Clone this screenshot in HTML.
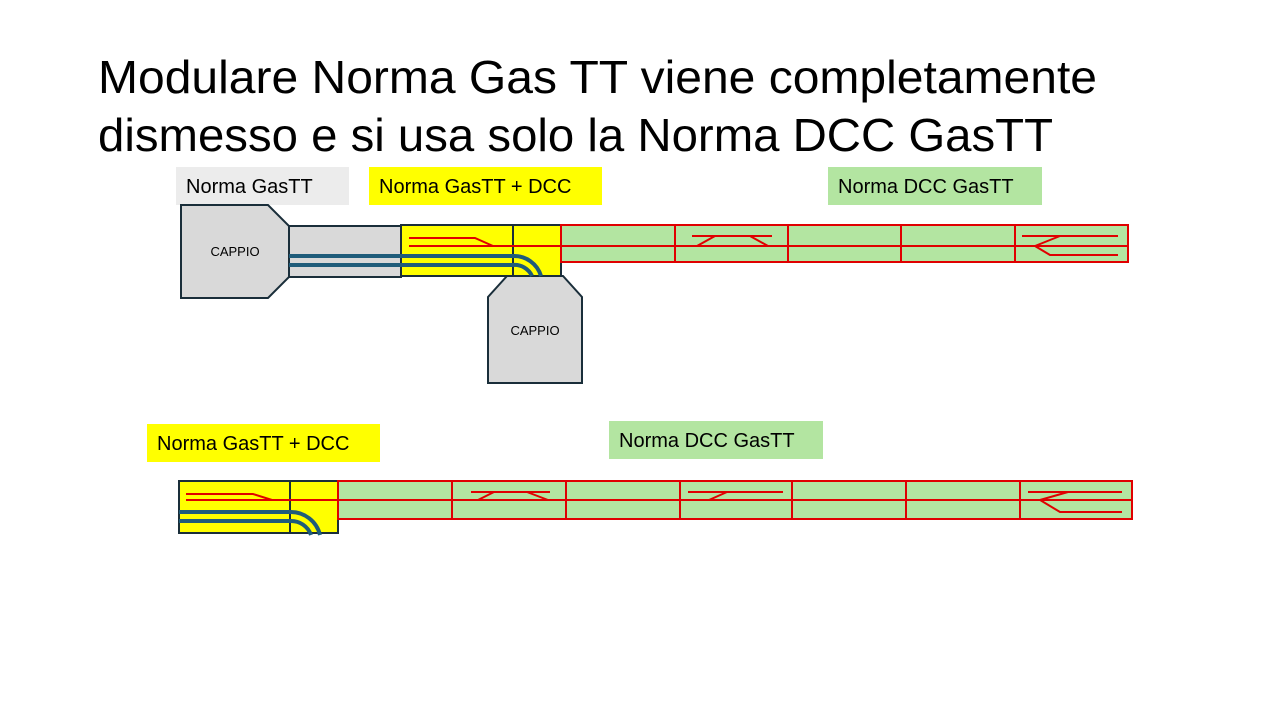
<!DOCTYPE html>
<html><head><meta charset="utf-8"><style>html,body{margin:0;padding:0;background:#fff;width:1280px;height:720px;overflow:hidden}</style></head>
<body>
<svg width="1280" height="720" xmlns="http://www.w3.org/2000/svg" font-family="Liberation Sans, sans-serif">
<text x="98" y="93" font-size="46" fill="#000" textLength="999" lengthAdjust="spacingAndGlyphs">Modulare Norma Gas TT viene completamente</text>
<text x="98" y="151" font-size="46" fill="#000" textLength="955" lengthAdjust="spacingAndGlyphs">dismesso e si usa solo la Norma DCC GasTT</text>

<!-- labels -->
<rect x="176" y="167" width="173" height="38" fill="#ececec"/>
<text x="186" y="193" font-size="20">Norma GasTT</text>
<rect x="369" y="167" width="233" height="38" fill="#ffff00"/>
<text x="379" y="193" font-size="20">Norma GasTT + DCC</text>
<rect x="828" y="167" width="214" height="38" fill="#b3e5a1"/>
<text x="838" y="193" font-size="20">Norma DCC GasTT</text>
<rect x="147" y="424" width="233" height="38" fill="#ffff00"/>
<text x="157" y="450" font-size="20">Norma GasTT + DCC</text>
<rect x="609" y="421" width="214" height="38" fill="#b3e5a1"/>
<text x="619" y="447" font-size="20">Norma DCC GasTT</text>

<!-- top row -->
<polygon points="181,205 268,205 289,226 289,277 268,298 181,298" fill="#d9d9d9" stroke="#1a2e3a" stroke-width="2"/>
<text x="235" y="256" font-size="13" text-anchor="middle">CAPPIO</text>
<rect x="289" y="226" width="112" height="51" fill="#d9d9d9" stroke="#1a2e3a" stroke-width="2"/>
<rect x="401" y="225" width="160" height="51" fill="#ffff00" stroke="#1a2e3a" stroke-width="2"/>
<line x1="513" y1="225" x2="513" y2="276" stroke="#1a2e3a" stroke-width="2"/>
<polygon points="507,276 563,276 582,297 582,383 488,383 488,297" fill="#d9d9d9" stroke="#1a2e3a" stroke-width="2"/>
<text x="535" y="335" font-size="13" text-anchor="middle">CAPPIO</text>
<rect x="561" y="225" width="567" height="37" fill="#b3e5a1" stroke="#e00000" stroke-width="2"/>
<g stroke="#e00000" stroke-width="2" fill="none">
<line x1="675" y1="225" x2="675" y2="262"/><line x1="788" y1="225" x2="788" y2="262"/><line x1="901" y1="225" x2="901" y2="262"/><line x1="1015" y1="225" x2="1015" y2="262"/>
<line x1="510" y1="246" x2="1128" y2="246"/>
<polyline points="409,238 475,238 493,246"/><line x1="409" y1="246" x2="510" y2="246"/>
<line x1="692" y1="236" x2="772" y2="236"/><line x1="715" y1="236" x2="697" y2="246"/><line x1="750" y1="236" x2="768" y2="246"/>
<line x1="1022" y1="236" x2="1118" y2="236"/><polyline points="1060,236 1035,246 1050,255 1118,255"/>
</g>
<g stroke="#1f5c7a" stroke-width="4" fill="none">
<path d="M289,256 L513,256 A28,28 0 0 1 541,276"/>
<path d="M289,265 L513,265 A19,19 0 0 1 532,276"/>
</g>

<!-- bottom row -->
<rect x="179" y="481" width="159" height="52" fill="#ffff00" stroke="#1a2e3a" stroke-width="2"/>
<line x1="290" y1="481" x2="290" y2="533" stroke="#1a2e3a" stroke-width="2"/>
<rect x="338" y="481" width="794" height="38" fill="#b3e5a1" stroke="#e00000" stroke-width="2"/>
<g stroke="#e00000" stroke-width="2" fill="none">
<line x1="452" y1="481" x2="452" y2="519"/><line x1="566" y1="481" x2="566" y2="519"/><line x1="680" y1="481" x2="680" y2="519"/><line x1="792" y1="481" x2="792" y2="519"/><line x1="906" y1="481" x2="906" y2="519"/><line x1="1020" y1="481" x2="1020" y2="519"/>
<line x1="186" y1="500" x2="1132" y2="500"/>
<polyline points="186,494 253,494 272,500"/>
<line x1="471" y1="492" x2="550" y2="492"/><line x1="494" y1="492" x2="478" y2="500"/><line x1="527" y1="492" x2="548" y2="500"/>
<line x1="688" y1="492" x2="783" y2="492"/><line x1="727" y1="492" x2="709" y2="500"/>
<line x1="1028" y1="492" x2="1122" y2="492"/><polyline points="1068,492 1040,500 1060,512 1122,512"/>
</g>
<g stroke="#1f5c7a" stroke-width="4" fill="none">
<path d="M179,512 L290,512 A30,30 0 0 1 320,535"/>
<path d="M179,521 L290,521 A21,21 0 0 1 311,535"/>
</g>
</svg>
</body></html>
